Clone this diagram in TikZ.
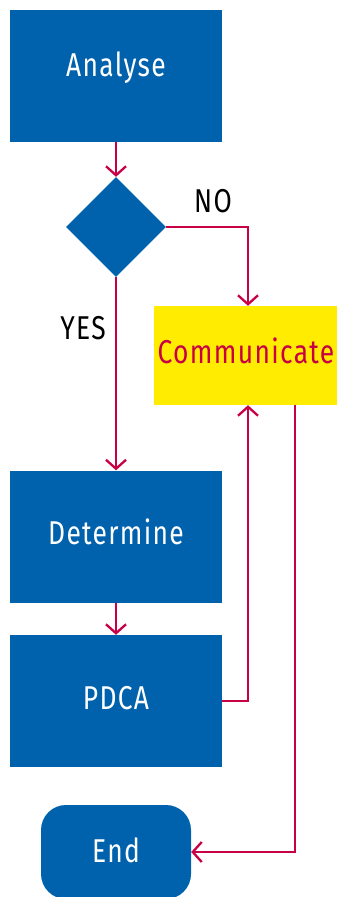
\documentclass[tikz,border=0pt]{standalone}
\usepackage{fontspec}
\setmainfont{Fira Sans}[FakeStretch=0.8,LetterSpace=4]
\usepackage{tikz}
\usetikzlibrary{shapes.geometric,arrows.meta,calc,positioning}
\definecolor{boxblue}{RGB}{0,97,172}
\definecolor{linered}{RGB}{200,0,70}
\definecolor{boxyellow}{RGB}{255,236,0}

\begin{document}
\begin{tikzpicture}[x=1pt,y=-1pt,
	 		txt/.style={font=\fontsize{33}{38}\selectfont, text height=24pt, text depth=8pt},
	 		stepbox/.style={rectangle, fill=boxblue, text=white, minimum width=212pt, minimum height=132pt, inner sep=0pt, txt},
	 		flow/.style={-{Straight Barb[length=9pt,width=20pt]}, line width=2.3pt, linered}]
	 		\useasboundingbox (0,0) rectangle (337,897);
	 		\node[stepbox, text height=25pt, text depth=25pt] (analyse) at (116,76) {Analyse};
	 		\node[diamond, fill=boxblue, minimum width=100pt, minimum height=100pt, inner sep=0pt] (dec) at (116,227) {};
	 		\node[rectangle, fill=boxyellow, text=linered, minimum width=184pt, minimum height=99pt, inner sep=0pt, txt] (comm) at (246,355.5) {Communicate};
	 		\node[stepbox] (det) at (116,536.5) {Determine};
	 		\node[stepbox] (pdca) at (116,701) {PDCA};
	 		\node[rectangle, rounded corners=25pt, fill=boxblue, text=white, minimum width=150pt, minimum height=94pt, inner sep=0pt, txt, text height=29pt, text depth=8pt] (end) at (116,852) {End};
	 		\node[txt] (no) at (213,204) {NO};
	 		\node[txt] (yes) at (83,331) {YES};
	 		\draw[flow] (analyse)--(dec);
	 		\draw[flow] (dec.east) -| ([xshift=2pt]comm.north);
	 		\draw[flow] (dec)--(det);
	 		\draw[flow] (det)--(pdca);
	 		\draw[flow] (pdca.east) -| ([xshift=2pt]comm.south);
	 		\draw[flow] ([xshift=49pt]comm.south) |- (end.east);
	 	\end{tikzpicture}
\end{document}
